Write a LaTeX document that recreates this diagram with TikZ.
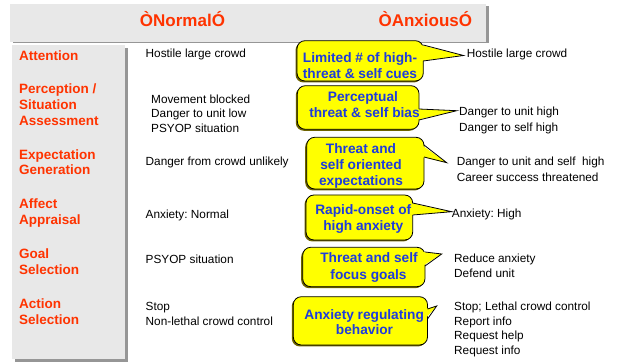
\documentclass[tikz,border=0pt]{standalone}
\usepackage{fontspec}
\setmainfont{Liberation Sans}
\usetikzlibrary{calc,fit}
\frenchspacing
\definecolor{hdred}{RGB}{255,51,0}
\definecolor{cblue}{RGB}{30,60,220}
\definecolor{panelgray}{RGB}{232,232,232}
\definecolor{panelshadow}{RGB}{150,150,150}
\definecolor{cyellow}{RGB}{255,255,0}
\definecolor{cshadowc}{RGB}{110,100,0}
\tikzset{
  hdr/.style={anchor=base, inner sep=0pt, text=hdred, font=\fontsize{17}{20}\selectfont\bfseries},
  rowlabel/.style={anchor=base west, inner sep=0pt, text=hdred, font=\fontsize{13.5}{16}\selectfont\bfseries},
  nt/.style={anchor=base west, inner sep=0pt, font=\fontsize{11.8}{14}\selectfont\frenchspacing},
  ct/.style={anchor=base, inner sep=0pt, text=cblue, font=\fontsize{13.7}{16}\selectfont\bfseries},
  cbox/.style={inner sep=0pt, outer sep=0pt, rounded corners=8pt, fill=cyellow, draw=black, line width=0.8pt},
  cline/.style={draw=black, line width=0.8pt, line join=miter},
}
\newcommand{\mycallout}[7]{%
  \fill[cshadowc, rounded corners=8pt] (#2-1.5,#3+1.5) rectangle (#4-1.5,#5+1.5);
  \node[cbox, fit={(#2,#3) (#4,#5)}] (#1) {};
  \fill[cyellow] ($(#1.east |- 0,#6)+(-2.5,0)$) -- (#1t) -- ($(#1.east |- 0,#7)+(-2.5,0)$) -- cycle;
  \draw[cline] (#1.east |- 0,#6) -- (#1t) -- (#1.east |- 0,#7);
}
\begin{document}
\begin{tikzpicture}[x=1pt,y=-1pt]
\useasboundingbox (0,0) rectangle (619,363);
% header panel
\fill[panelshadow] (12.5,6) rectangle (489,43.5);
\fill[panelgray] (10,4) rectangle (486,42.5);
\node[hdr] (hn) at (182.5,26.5) {ÒNormalÓ};
\node[hdr] (ha) at (425.3,26.5) {ÒAnxiousÓ};
% left panel
\fill[panelshadow] (15,48) rectangle (128,362);
\fill[panelgray] (12,45) rectangle (125,359);
% row labels
\node[rowlabel] (r1) at (19,60.7) {Attention};
\node[rowlabel] (r2a) at (19,94) {Perception /};
\node[rowlabel] (r2b) at (19,109.5) {Situation};
\node[rowlabel] (r2c) at (19,125.7) {Assessment};
\node[rowlabel] (r3a) at (19,159.3) {Expectation};
\node[rowlabel] (r3b) at (19,175) {Generation};
\node[rowlabel] (r4a) at (19,208.3) {Affect};
\node[rowlabel] (r4b) at (19,225) {Appraisal};
\node[rowlabel] (r5a) at (19,258.3) {Goal};
\node[rowlabel] (r5b) at (19,275) {Selection};
\node[rowlabel] (r6a) at (19,308.3) {Action};
\node[rowlabel] (r6b) at (19,324.3) {Selection};
% normal column
\node[nt] (n1) at (145.5,57.7) {Hostile large crowd};
\node[nt] (n2a) at (151,103.3) {Movement blocked};
\node[nt] (n2b) at (151,117.5) {Danger to unit low};
\node[nt] (n2c) at (151,132.3) {PSYOP situation};
\node[nt] (n3) at (145.5,166) {Danger from crowd unlikely};
\node[nt] (n4) at (145.5,218.3) {Anxiety: Normal};
\node[nt] (n5) at (145.5,263.3) {PSYOP situation};
\node[nt] (n6a) at (145.5,311) {Stop};
\node[nt] (n6b) at (145.5,326) {Non-lethal crowd control};
% anxious column
\node[nt] (a1) at (466.7,57.7) {Hostile large crowd};
\node[nt] (a2a) at (459,116) {Danger to unit high};
\node[nt] (a2b) at (459,131.7) {Danger to self high};
\node[nt] (a3a) at (456.7,165.7) {Danger to unit and self\ \ high};
\node[nt] (a3b) at (456.7,181.7) {Career success threatened};
\node[nt] (a4) at (451.7,217.3) {Anxiety: High};
\node[nt] (a5a) at (454,262.7) {Reduce anxiety};
\node[nt] (a5b) at (454,277.3) {Defend unit};
\node[nt] (a6a) at (454,310.7) {Stop; Lethal crowd control};
\node[nt] (a6b) at (454,325.3) {Report info};
\node[nt] (a6c) at (454,340) {Request help};
\node[nt] (a6d) at (454,354.3) {Request info};
% callout tips
\coordinate (c1t) at (463.5,55.5);
\coordinate (c2t) at (456.7,110.7);
\coordinate (c3t) at (446.7,162.7);
\coordinate (c4t) at (451.7,211.7);
\coordinate (c5t) at (441.7,254);
\coordinate (c6t) at (436.7,306);
% callouts
\mycallout{c1}{297}{40.7}{423.3}{81}{45}{61}
\mycallout{c2}{297.3}{85.7}{419}{129.3}{109}{120}
\mycallout{c3}{306.7}{137.3}{424}{189}{145}{157}
\mycallout{c4}{306}{195}{412.7}{240}{203}{215}
\mycallout{c5}{302.7}{247.3}{425}{286.7}{252}{266}
\mycallout{c6}{293.3}{296.7}{427.5}{345}{309}{319}
% callout texts
\node[ct] (c1a) at (360,62.7) {Limited \# of high-};
\node[ct] (c1b) at (360,78.3) {threat \& self cues};
\node[ct] (c2a) at (363,101.7) {Perceptual};
\node[ct] (c2b) at (364.5,117.3) {threat \& self bias};
\node[ct] (c3a) at (361,153.3) {Threat and};
\node[ct] (c3b) at (361,169.3) {self oriented};
\node[ct] (c3c) at (361,186) {expectations};
\node[ct] (c4a) at (363.3,215) {Rapid-onset of};
\node[ct] (c4b) at (363.3,230.7) {high anxiety};
\node[ct] (c5a) at (369,262.7) {Threat and self};
\node[ct] (c5b) at (368.5,279.3) {focus goals};
\node[ct] (c6a) at (364.2,319.3) {Anxiety regulating};
\node[ct] (c6b) at (364.5,335) {behavior};
\end{tikzpicture}
\end{document}
